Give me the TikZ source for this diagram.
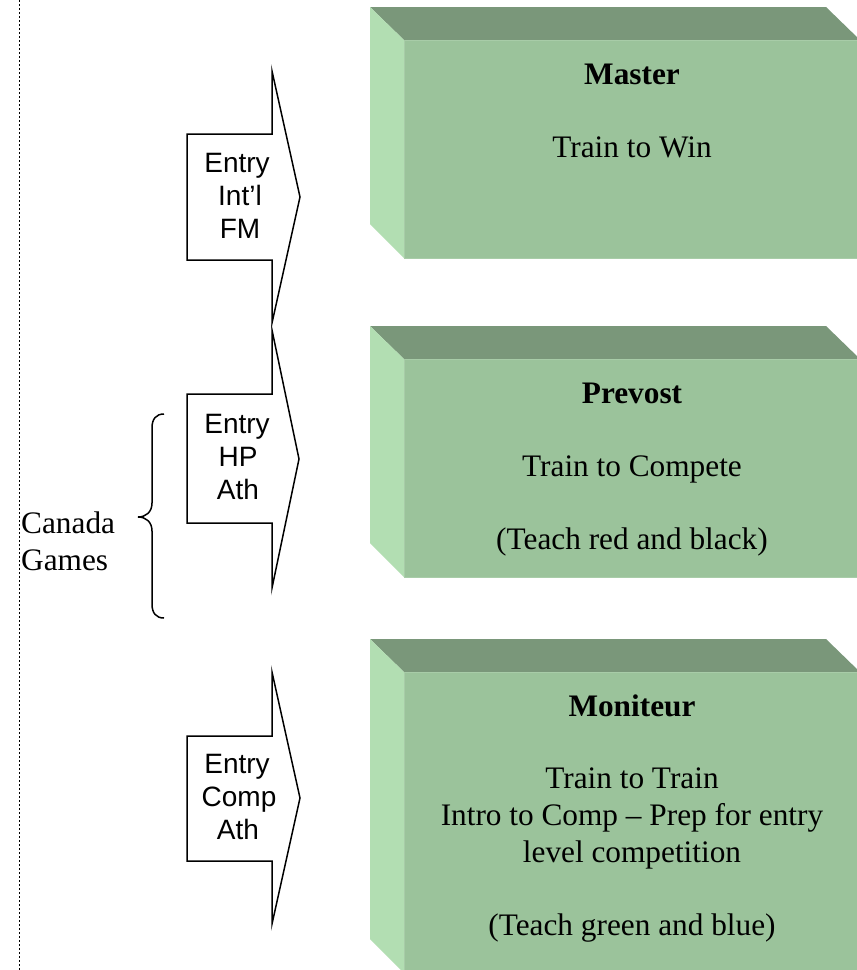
\documentclass[tikz,border=0pt]{standalone}
\usepackage{fontspec}
\setmainfont{Liberation Serif}
\newfontfamily\arialfont{Liberation Sans}
\definecolor{boxfront}{RGB}{155,195,155}
\definecolor{boxtop}{RGB}{122,151,122}
\definecolor{boxside}{RGB}{178,222,178}
\definecolor{boxedge}{RGB}{168,204,168}
\newcommand\lvlbox[2]{%
  \fill[boxtop] (370,#1) -- (826,#1) -- (860,#1+33) -- (404,#1+33) -- cycle;
  \fill[boxside] (370,#1) -- (404,#1+33) -- (404,#2) -- (370,#2-34) -- cycle;
  \fill[boxfront] (404,#1+33) rectangle (860,#2);
  \draw[boxedge,line width=0.8pt] (404,#2) -- (404,#1+33) -- (860,#1+33);
  \draw[boxedge,line width=0.8pt] (404,#2) -- (860,#2);
}
\newcommand\entryarrow[6]{% body top, body bottom, head top, tip y, head bottom, tip x
  \draw[arrowline] (187,#1) -- (272,#1) -- (272,#3) -- (#6,#4) -- (272,#5) -- (272,#2) -- (187,#2) -- cycle;
}
\tikzset{
  boxtxt/.style={anchor=base, inner sep=0pt, font=\fontsize{31.3}{36.5}\selectfont},
  boxtitle/.style={anchor=base, inner sep=0pt, font=\fontsize{31.3}{36.5}\selectfont\bfseries},
  arrtxt/.style={anchor=base, inner sep=0pt, font=\arialfont\fontsize{28}{33}\selectfont},
  sidetxt/.style={anchor=base west, inner sep=0pt, font=\fontsize{31.3}{36.5}\selectfont},
  arrowline/.style={draw=black, fill=white, line width=1.5pt, line join=miter},
  bracelin/.style={draw=black, line width=1.5pt},
  dotline/.style={draw=black, line width=1.6pt, dash pattern=on 1.6pt off 2.4pt}
}
\begin{document}
\begin{tikzpicture}[x=1pt,y=-1pt]
\useasboundingbox (0,0) rectangle (857,970);
\clip (0,0) rectangle (857,970);
\fill[white] (0,0) rectangle (857,970);
% dotted margin line
\coordinate (dtop) at (19.5,0);
\coordinate (dbot) at (19.5,970);
\draw[dotline] (dtop) -- (dbot);
% boxes
\lvlbox{7}{258}
\lvlbox{326}{577}
\lvlbox{639}{973}
% Master
\node[boxtitle] (mtitle) at (632,84) {Master};
\node[boxtxt] (mline1) at (632,157) {Train to Win};
% Prevost
\node[boxtitle] (ptitle) at (632,403) {Prevost};
\node[boxtxt] (pline1) at (632,476) {Train to Compete};
\node[boxtxt] (pline2) at (632,549) {(Teach red and black)};
% Moniteur
\node[boxtitle] (ntitle) at (632,716) {Moniteur};
\node[boxtxt] (nline1) at (632,788) {Train to Train};
\node[boxtxt] (nline2) at (632,825) {Intro to Comp – Prep for entry};
\node[boxtxt] (nline3) at (632,862) {level competition};
\node[boxtxt] (nline4) at (632,935) {(Teach green and blue)};
% arrows
\entryarrow{134}{260}{71}{197}{323}{300}
\entryarrow{394}{523}{330}{459}{588}{299}
\entryarrow{736}{861}{672}{798}{924}{300}
\node[arrtxt] (a1l1) at (237,172) {Entry};
\node[arrtxt] (a1l2) at (240,205) {Int’l};
\node[arrtxt] (a1l3) at (240,238) {FM};
\node[arrtxt] (a2l1) at (237,433) {Entry};
\node[arrtxt] (a2l2) at (238,466) {HP};
\node[arrtxt] (a2l3) at (238,499) {Ath};
\node[arrtxt] (a3l1) at (237,773) {Entry};
\node[arrtxt] (a3l2) at (239,806) {Comp};
\node[arrtxt] (a3l3) at (238,839) {Ath};
% brace
\draw[bracelin] (164,414) .. controls (156,414) and (152,419) .. (152,428) -- (152,503)
  .. controls (152,512) and (146,517) .. (138,517)
  .. controls (146,517) and (152,522) .. (152,531) -- (152,604)
  .. controls (152,613) and (156,618) .. (164,618);
% Canada Games
\node[sidetxt] (cg1) at (21,533) {Canada};
\node[sidetxt] (cg2) at (21,570) {Games};
\end{tikzpicture}
\end{document}
